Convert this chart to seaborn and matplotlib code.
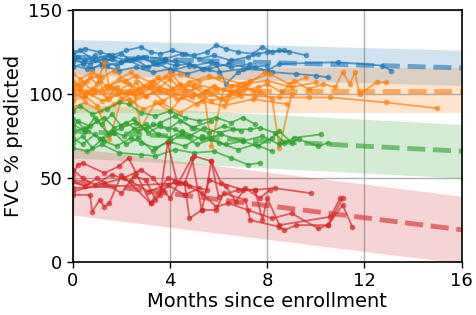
import matplotlib
matplotlib.use("Agg")
import numpy as np
import pandas as pd
import matplotlib.pyplot as plt
import seaborn as sns

# -----------------------------------
# DATA
# -----------------------------------

group_names = ["blue", "orange", "green", "red"]
group_colors = ["#1f77b4", "#ff7f0e", "#2ca02c", "#d62728"]

# group trend: intercept, slope per month, band half width
trend_intercept = [122, 102, 78, 48]
trend_slope = [-0.40, 0.0, -0.75, -1.8]
band_halfwidth = [10.5, 13.5, 16, 20]

blue_months = [
    [0.0, 0.5, 1.1, 1.6, 2.2, 2.8, 3.2, 3.6, 4.1, 4.6, 5.0, 5.5, 5.9, 6.3, 6.8, 7.4, 7.8, 8.2, 8.7, 9.6],
    [0.0, 0.4, 0.9, 1.4, 2.0, 2.5, 3.1, 3.7, 4.2, 4.8, 5.3, 5.9, 6.3, 6.8, 7.5, 8.2, 9.2, 10.0, 10.5],
    [0.0, 0.6, 1.2, 1.9, 2.6, 3.3, 4.0, 4.7, 5.4, 6.0, 7.0, 8.0, 8.5, 10.9, 12.7, 13.1],
    [0.0, 0.3, 0.8, 1.5, 2.2, 3.0, 3.8, 4.5, 5.2, 5.8, 6.5, 7.2, 7.6, 8.0, 8.5, 8.9],
    [0.0, 0.7, 1.3, 2.0, 2.7, 3.4, 4.2, 5.0, 5.7, 6.5, 7.3],
    [0.0, 0.2, 0.5, 0.9, 1.2, 1.6, 2.0, 2.4, 2.9, 3.3, 3.8, 4.3],
    [0.0, 0.4, 0.8, 1.3, 1.8, 2.3, 2.9, 3.5, 4.1, 4.8, 5.6, 6.4, 7.2, 8.0],
]
blue_fvc = [
    [125, 127, 125, 123, 126, 128, 125, 124, 126, 124, 123, 125, 129, 127, 125, 124, 128, 125, 126, 123],
    [121, 119, 120, 117, 119, 121, 116, 119, 117, 118, 115, 118, 106, 113, 116, 113, 112, 111, 110],
    [117, 115, 117, 114, 116, 113, 115, 112, 115, 113, 115, 114, 118, 119, 117, 114],
    [123, 126, 121, 123, 120, 122, 121, 124, 121, 123, 120, 122, 124, 125, 126, 125],
    [120, 118, 121, 119, 122, 118, 120, 117, 119, 116, 118],
    [119, 122, 120, 123, 118, 121, 124, 120, 122, 119, 121, 118],
    [116, 118, 115, 119, 117, 120, 116, 118, 114, 117, 115, 118, 116, 117],
]

orange_months = [
    [0.0, 0.3, 0.7, 1.0, 1.3, 1.5, 1.9, 2.3, 2.8, 3.3, 4.0, 4.6, 5.2, 5.8, 6.5, 7.2, 7.9],
    [0.0, 0.4, 0.9, 1.5, 2.0, 2.6, 3.1, 3.7, 4.2, 4.9, 5.5, 6.1, 6.8, 7.5, 8.5, 9.7, 10.6, 12.9, 15.0],
    [0.0, 0.5, 1.0, 1.5, 2.0, 2.5, 2.8, 3.4, 4.0, 4.5, 5.1, 5.7, 6.3, 6.9],
    [0.0, 0.4, 0.9, 1.4, 2.1, 2.7, 3.3, 3.9, 4.4, 5.0, 5.4, 5.7, 6.2, 6.8, 7.4],
    [0.0, 0.6, 1.2, 1.8, 2.4, 3.0, 3.6, 4.3, 5.0, 5.7, 6.4, 7.1, 7.7, 8.2, 8.5, 9.0],
    [0.0, 0.8, 1.6, 2.4, 3.2, 4.1, 5.0, 5.9, 6.8, 7.6, 8.0, 8.6, 9.1, 9.7, 10.3, 10.8, 11.1, 11.4, 11.6, 11.8, 12.5, 12.9],
    [0.0, 0.3, 0.8, 1.2, 1.7, 2.2, 2.6, 3.2, 3.8, 4.4, 5.2, 6.0, 7.0, 8.0, 9.0, 10.0],
    [0.0, 0.5, 1.1, 1.7, 2.3, 2.9, 3.6, 4.4, 5.3, 6.2, 7.4, 8.8],
    [0.0, 0.2, 0.5, 0.8, 1.1, 1.4, 1.8, 2.2, 2.6, 3.0, 3.5, 4.0, 4.6, 5.2],
    [0.0, 0.3, 0.6, 1.0, 1.4, 1.9, 2.4, 2.9, 3.5, 4.1, 4.8, 5.6, 6.5, 7.3, 8.1, 8.9, 9.6],
]
orange_fvc = [
    [108, 104, 110, 106, 119, 104, 102, 106, 100, 104, 113, 103, 99, 105, 101, 106, 113],
    [100, 98, 103, 97, 101, 99, 104, 96, 100, 98, 102, 97, 100, 99, 98, 98, 98, 95, 91.5],
    [96, 99, 93, 73, 97, 101, 80, 95, 90, 98, 94, 100, 96, 99],
    [104, 107, 101, 105, 108, 103, 107, 102, 106, 104, 100, 69, 103, 105, 102],
    [98, 101, 96, 100, 95, 99, 102, 97, 100, 96, 99, 104, 101, 97, 68, 100],
    [103, 100, 104, 101, 105, 102, 106, 103, 101, 104, 106, 101, 108, 103, 106, 104, 113, 106, 113, 100, 107, 107],
    [112, 109, 113, 110, 114, 108, 111, 107, 110, 112, 108, 110, 106, 108, 104, 107],
    [92, 95, 90, 94, 97, 91, 95, 89, 96, 93, 97, 94],
    [101, 106, 99, 103, 108, 97, 104, 100, 107, 99, 103, 109, 101, 104],
    [106, 102, 108, 111, 104, 109, 113, 105, 110, 103, 107, 111, 105, 108, 112, 106, 110],
]

green_months = [
    [0.0, 0.3, 0.8, 1.4, 1.9, 2.3, 2.8, 3.4, 4.0, 4.6, 5.2, 5.9, 6.5, 7.0, 7.5],
    [0.0, 0.5, 1.0, 1.5, 2.0, 2.6, 3.1, 3.6, 4.2, 4.8, 5.4, 6.0, 6.6, 7.3, 7.7, 8.3, 8.7, 9.1, 10.2],
    [0.0, 0.4, 0.9, 1.3, 1.8, 2.4, 2.8, 3.4, 4.0, 4.5, 5.1, 5.7, 6.3, 7.0, 7.6, 8.2, 8.5, 9.0],
    [0.0, 0.6, 1.2, 1.9, 2.8, 3.4, 4.2, 5.0, 5.8, 6.5, 7.2, 7.7],
    [0.0, 0.7, 1.3, 1.7, 2.2, 2.7, 3.3, 3.9, 4.4, 5.0, 5.6, 6.2, 6.9],
    [0.0, 0.5, 1.1, 1.6, 2.1, 2.5, 3.0, 3.5, 4.0, 4.5, 5.3, 6.1, 7.0, 7.8, 8.5, 9.3, 10.1, 10.5],
    [0.0, 0.2, 0.5, 0.9, 1.2, 1.6, 2.0, 2.5, 3.0, 3.6, 4.2, 4.9, 5.7],
    [0.0, 0.4, 0.8, 1.2, 1.7, 2.2, 2.7, 3.3, 3.9, 4.6, 5.3, 6.0, 6.8, 7.5, 8.2],
]
green_fvc = [
    [90, 93, 88, 91, 95, 94, 89, 87, 90, 86, 84, 86, 83, 86, 82],
    [82, 78, 84, 76, 80, 83, 77, 81, 79, 75, 80, 77, 79, 79, 80, 77, 71, 74, 76],
    [74, 70, 76, 72, 69, 74, 71, 68, 72, 76, 70, 73, 70, 72, 69, 74, 78, 71],
    [68, 66, 70, 65, 64, 63, 67, 65, 66, 62, 58, 59],
    [85, 81, 86, 80, 83, 78, 82, 79, 84, 80, 77, 81, 78],
    [77, 80, 73, 78, 75, 79, 82, 76, 74, 78, 73, 76, 72, 75, 70, 73, 69, 71],
    [80, 84, 78, 86, 82, 88, 81, 85, 79, 83, 87, 80, 84],
    [71, 75, 68, 73, 77, 70, 74, 66, 72, 69, 75, 71, 67, 70, 66],
]

red_months = [
    [0.0, 0.2, 0.4, 1.3, 1.9, 2.3, 2.6, 3.2, 3.6, 3.9, 4.3, 4.6, 5.0, 5.7, 6.1, 7.0, 7.5, 8.3, 9.8],
    [0.0, 0.7, 0.8, 1.1, 1.3, 1.5, 2.0, 3.2, 3.9, 4.6, 4.8, 5.3, 5.9, 6.2, 7.1, 7.3, 8.5, 8.7, 9.2, 10.5, 11.1],
    [0.0, 4.4, 5.5, 5.7, 6.0, 6.8, 7.5, 7.8, 8.0, 8.5, 10.6, 11.0],
    [0.0, 0.5, 1.0, 2.0, 2.5, 3.0, 3.4, 3.7, 4.2, 4.8, 5.3, 5.9, 6.4, 7.2, 8.2, 9.0, 10.1, 10.5, 11.1, 11.5],
    [0.0, 1.3, 2.1, 2.8, 3.3, 4.0, 4.9, 5.3, 5.6, 6.3, 6.7, 7.1, 7.7, 8.1],
    [0.0, 0.4, 0.9, 1.6, 2.4, 3.1, 3.9, 4.6, 5.2],
]
red_fvc = [
    [52, 58, 59, 53, 57, 62, 53, 35, 40, 71, 47, 47, 63, 60, 47, 43, 43, 44, 41],
    [40, 40, 30, 37, 33, 35, 52, 35, 50, 47, 26, 31, 31, 41, 37, 25, 21, 19, 22, 22, 38],
    [44, 47, 43, 60, 39, 43, 43, 25, 38, 22, 27, 38],
    [48, 45, 50, 41, 51, 49, 37, 43, 48, 45, 41, 33, 35, 31, 26, 29, 20, 22, 34, 21],
    [42, 47, 50, 55, 50, 38, 62, 31, 49, 45, 36, 44, 38, 43],
    [55, 50, 46, 52, 48, 42, 46, 40, 44],
]

x_ticks = [0, 4, 8, 12, 16]
y_ticks = [0, 50, 100, 150]

# -----------------------------------
# LONG TABLE
# -----------------------------------

rows = []
all_months = [blue_months, orange_months, green_months, red_months]
all_fvc = [blue_fvc, orange_fvc, green_fvc, red_fvc]
for g, months, fvc in zip(group_names, all_months, all_fvc):
    for i, (m, v) in enumerate(zip(months, fvc)):
        for mm, vv in zip(m, v):
            rows.append({"group": g, "patient": f"{g}{i}", "month": mm, "fvc": vv})
df = pd.DataFrame(rows)

# -----------------------------------
# PLOT
# -----------------------------------

sns.set_theme(style="ticks", rc={
    "axes.edgecolor": "black", "xtick.color": "black", "ytick.color": "black",
    "axes.labelcolor": "black", "text.color": "black",
})
plt.rcParams["font.family"] = ["DejaVu Sans"]

fig, ax = plt.subplots(figsize=(4.76, 3.15), dpi=100)
fig.subplots_adjust(left=0.153, right=0.970, bottom=0.168, top=0.968)

xs = np.linspace(0, 16, 50)
for c, b0, b1, hw in zip(group_colors, trend_intercept, trend_slope, band_halfwidth):
    mean = b0 + b1 * xs
    ax.fill_between(xs, mean - hw, mean + hw, color=c, alpha=0.2, lw=0)

sns.lineplot(data=df, x="month", y="fvc", hue="group", units="patient",
             estimator=None, palette=dict(zip(group_names, group_colors)),
             marker="o", markersize=4, markeredgewidth=0, lw=1.3, alpha=0.7,
             legend=False, sort=False, ax=ax)

for c, b0, b1 in zip(group_colors, trend_intercept, trend_slope):
    ax.plot(xs, b0 + b1 * xs, "--", color=c, lw=3.5, alpha=0.6)

ax.set_xlim(0, 16)
ax.set_ylim(0, 150)
ax.set_xticks(x_ticks)
ax.set_yticks(y_ticks)
ax.grid(True, color="#b0b0b0", lw=1)
ax.tick_params(labelsize=13, width=1, length=4)
ax.set_xlabel("Months since enrollment", fontsize=14, labelpad=1)
ax.set_ylabel("FVC % predicted", fontsize=14, labelpad=4)
for s in ax.spines.values():
    s.set_linewidth(1.2)

plt.savefig("out.png", dpi=100)
